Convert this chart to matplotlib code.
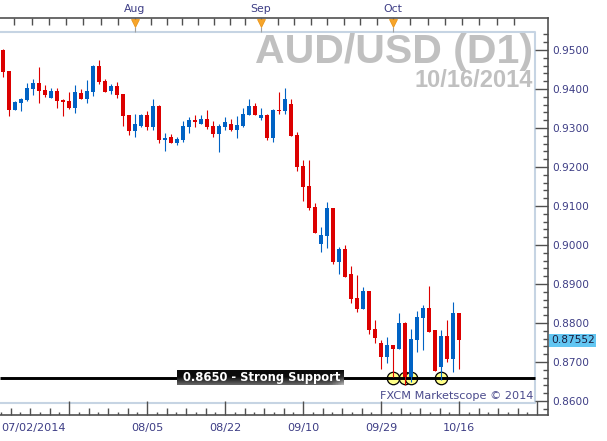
import matplotlib
matplotlib.use("Agg")
import matplotlib.pyplot as plt
import numpy as np
import pandas as pd

# AUD/USD daily candles, 07/02/2014 - 10/16/2014
dates = pd.bdate_range("2014-07-02", "2014-10-16")

opens = [0.9500, 0.9446, 0.9346, 0.9365, 0.9372, 0.9400, 0.9415, 0.9397, 0.9378, 0.9395,
         0.9373, 0.9369, 0.9352, 0.9390, 0.9374, 0.9393, 0.9459, 0.9421, 0.9395, 0.9408,
         0.9387, 0.9333, 0.9293, 0.9306, 0.9333, 0.9303, 0.9356, 0.9269, 0.9276, 0.9262,
         0.9269, 0.9303, 0.9321, 0.9311, 0.9323, 0.9305, 0.9285, 0.9303, 0.9310, 0.9296,
         0.9306, 0.9334, 0.9356, 0.9326, 0.9333, 0.9274, 0.9346, 0.9344, 0.9362, 0.9282,
         0.9203, 0.9151, 0.9098, 0.9003, 0.9024, 0.9096, 0.8957, 0.8990, 0.8926, 0.8863,
         0.8836, 0.8883, 0.8784, 0.8749, 0.8714, 0.8744, 0.8733, 0.8801, 0.8662, 0.8756,
         0.8814, 0.8839, 0.8781, 0.8687, 0.8767, 0.8708, 0.8826]
highs = [0.9502, 0.9446, 0.9369, 0.9378, 0.9416, 0.9426, 0.9456, 0.9410, 0.9403, 0.9402,
         0.9375, 0.9393, 0.9410, 0.9399, 0.9423, 0.9462, 0.9474, 0.9426, 0.9413, 0.9418,
         0.9387, 0.9333, 0.9336, 0.9336, 0.9344, 0.9374, 0.9359, 0.9286, 0.9284, 0.9277,
         0.9319, 0.9328, 0.9333, 0.9333, 0.9346, 0.9318, 0.9310, 0.9327, 0.9323, 0.9331,
         0.9351, 0.9374, 0.9364, 0.9351, 0.9336, 0.9348, 0.9393, 0.9403, 0.9374, 0.9289,
         0.9218, 0.9218, 0.9107, 0.9047, 0.9110, 0.9096, 0.8996, 0.9000, 0.8946, 0.8923,
         0.8893, 0.8883, 0.8808, 0.8756, 0.8765, 0.8744, 0.8825, 0.8803, 0.8784, 0.8831,
         0.8846, 0.8896, 0.8782, 0.8782, 0.8808, 0.8855, 0.8826]
lows = [0.9432, 0.9331, 0.9346, 0.9344, 0.9369, 0.9385, 0.9365, 0.9380, 0.9378, 0.9352,
        0.9331, 0.9349, 0.9339, 0.9374, 0.9365, 0.9383, 0.9414, 0.9393, 0.9387, 0.9378,
        0.9305, 0.9282, 0.9278, 0.9303, 0.9295, 0.9295, 0.9262, 0.9242, 0.9262, 0.9256,
        0.9265, 0.9288, 0.9302, 0.9311, 0.9297, 0.9278, 0.9239, 0.9295, 0.9293, 0.9275,
        0.9303, 0.9334, 0.9334, 0.9321, 0.9269, 0.9265, 0.9336, 0.9336, 0.9280, 0.9191,
        0.9114, 0.9090, 0.9030, 0.8983, 0.8992, 0.8951, 0.8926, 0.8919, 0.8851, 0.8829,
        0.8836, 0.8772, 0.8748, 0.8682, 0.8697, 0.8662, 0.8733, 0.8641, 0.8650, 0.8726,
        0.8731, 0.8778, 0.8678, 0.8654, 0.8699, 0.8674, 0.8682]
closes = [0.9444, 0.9346, 0.9366, 0.9374, 0.9402, 0.9416, 0.9395, 0.9385, 0.9395, 0.9370,
          0.9367, 0.9351, 0.9392, 0.9374, 0.9395, 0.9460, 0.9418, 0.9393, 0.9408, 0.9385,
          0.9332, 0.9293, 0.9310, 0.9333, 0.9303, 0.9356, 0.9269, 0.9274, 0.9262, 0.9272,
          0.9305, 0.9321, 0.9316, 0.9323, 0.9303, 0.9285, 0.9305, 0.9315, 0.9295, 0.9308,
          0.9336, 0.9356, 0.9334, 0.9333, 0.9274, 0.9346, 0.9344, 0.9374, 0.9280, 0.9201,
          0.9150, 0.9096, 0.9030, 0.9026, 0.9096, 0.8957, 0.8990, 0.8919, 0.8862, 0.8836,
          0.8883, 0.8782, 0.8762, 0.8714, 0.8744, 0.8733, 0.8801, 0.8662, 0.8759, 0.8816,
          0.8839, 0.8778, 0.8678, 0.8767, 0.8708, 0.8826, 0.87552]

support_level = 0.8660
support_text = "0.8650 - Strong Support"
touch_dates = ["2014-10-01", "2014-10-03", "2014-10-06", "2014-10-13"]
label_dates = ["2014-08-05", "2014-08-22", "2014-09-10", "2014-09-29", "2014-10-16"]
month_starts = ["2014-08-01", "2014-09-01", "2014-10-01"]
month_labels = ["Aug", "Sep", "Oct"]

RED = "#dc0000"
BLUE = "#0062c4"
FRAME = "#505050"
TXT = "#3d3d85"

plt.rcParams["font.family"] = "DejaVu Sans"

W, H = 607, 441
fig = plt.figure(figsize=(W / 100, H / 100), dpi=100)
# outer frame spans 548 x 397 px, one bar every 6 px, 0.01 = 39 px
ax = fig.add_axes([0, (H - 415) / H, 548 / W, 397 / H])
xlim = (-0.5, -0.5 + 548 / 6)
ylim = (0.95 - 365 / 3900, 0.95 + 32 / 3900)
inner_right = -0.5 + 535 / 6
inner_top = 0.95 + 18 / 3900
inner_bot = 0.95 - 353 / 3900
xt = ax.get_xaxis_transform()

idx = np.arange(len(dates))
o, h, l, c = (np.array(v) for v in (opens, highs, lows, closes))
cols = np.where(c >= o, BLUE, RED)
ax.vlines(idx, l, h, colors=cols, lw=0.8, zorder=4)
ax.bar(idx, np.maximum(np.abs(c - o), 0.0003), bottom=np.minimum(o, c),
       width=0.78, color=cols, lw=0, zorder=5)

# support line with touches
touch_idx = [dates.get_loc(pd.Timestamp(d)) for d in touch_dates]
ax.scatter(touch_idx, [support_level] * len(touch_idx), s=80, fc="#ffff88",
           ec="black", lw=0.9, zorder=3)
ax.hlines(support_level, -0.5, inner_right, color="black", lw=2.1, zorder=3.5)

# label box with a dark gradient
gy = np.linspace(0, 1, 20)[:, None]
gx = np.linspace(0, 1, 60)[None, :]
grad = 0.05 + 0.35 * np.clip((gy - 0.45) / 0.55, 0, 1) + 0.3 * np.clip((gx - 0.92) / 0.08, 0, 1) * gy
ax.imshow(grad, cmap="gray", vmin=0, vmax=1, aspect="auto", zorder=6,
          extent=[29, 56.7, support_level - 0.0018, support_level + 0.0018])
ax.text(43.1, support_level, support_text, color="white", fontweight="bold",
        fontsize=8.3, ha="center", va="center", zorder=7)

# light inner border
ax.plot([-0.5, inner_right, inner_right, -0.5], [inner_top, inner_top, inner_bot, inner_bot],
        color="#c6d4e3", lw=1.5, zorder=1, clip_on=False)

for s in ("top", "right", "bottom"):
    ax.spines[s].set_color(FRAME)
    ax.spines[s].set_linewidth(1.2)
ax.spines["left"].set_visible(False)

# right price axis
ax.yaxis.tick_right()
yt = np.arange(0.86, 0.9501, 0.01)
ax.set_yticks(yt, [f"{v:.4f}" for v in yt])
ax.set_yticks(np.arange(0.858, 0.9545, 0.002), minor=True)
ax.tick_params(axis="y", which="major", direction="in", length=9.4, width=1, color=FRAME,
               labelsize=7.6, labelcolor=TXT, pad=3.4, left=False, right=True)
ax.tick_params(axis="y", which="minor", direction="in", length=3.6, width=1, color=FRAME,
               left=False, right=True)

# current price tag
ax.text(1 + 3 / 548, closes[-1], f"{closes[-1]:.5f}", transform=ax.get_yaxis_transform(),
        ha="left", va="center", fontsize=7.7, color="#1c1c3c", clip_on=False,
        bbox=dict(boxstyle="square,pad=0.15", fc="#62c6f2", ec="none"))

# bottom date axis: majors every 13 bars, minors alternate long/short
lab_idx = [dates.get_loc(pd.Timestamp(d)) for d in label_dates]
major_x = [lab_idx[0] - 13] + lab_idx + [lab_idx[-1] + 13]
ax.set_xticks(major_x, [""] + [pd.Timestamp(d).strftime("%m/%d") for d in label_dates] + [""])
mid_x = np.arange(major_x[0] - 13 + 13 / 4, major_x[-1], 13 / 4)
ax.set_xticks(mid_x[mid_x > xlim[0]], minor=True)
short_x = np.arange(major_x[0] - 13 + 13 / 8, major_x[-1], 13 / 4)
ax.vlines(short_x[short_x > xlim[0]], 0, 3 / 397, transform=xt, color=FRAME, lw=1, zorder=9)
ax.tick_params(axis="x", which="major", direction="in", length=10, width=1, color=FRAME,
               labelsize=8.1, labelcolor=TXT, pad=5.5, top=False)
ax.tick_params(axis="x", which="minor", direction="in", length=5, width=1, color=FRAME,
               top=False)
fig.text(1 / W, 1 - 428 / H, dates[0].strftime("%m/%d/%Y"), ha="left", va="center",
         fontsize=8.1, color=TXT)

# top month axis
m_idx = [dates.get_loc(pd.Timestamp(d)) for d in month_starts]
bounds = [m_idx[0] - 23] + m_idx + [m_idx[-1] + 23]
sub = np.concatenate([np.linspace(a, b, 9)[:-1] for a, b in zip(bounds[:-1], bounds[1:])])
sub = sub[(sub > xlim[0]) & (sub < xlim[1])]
ax.vlines(sub, 1, 1 - 7 / 397, transform=xt, color=FRAME, lw=1, zorder=9)
for m, lab in zip(m_idx, month_labels):
    ax.text(m, 1 + 9 / 397, lab, transform=xt, ha="center", va="center",
            fontsize=7.8, color=TXT, clip_on=False)
ax.vlines(m_idx, 1 - 9 / 397, 1 - 14 / 397, transform=xt, color="#a0a0a0", lw=0.8, zorder=9)
ax.plot(m_idx, [1 - 5 / 397] * len(m_idx), "v", transform=xt, ms=5.8, color="#f7a52a",
        mec="#e89010", mew=0.5, clip_on=False, zorder=10)

ax.set_xlim(*xlim)
ax.set_ylim(*ylim)

# watermark texts
fig.text(533 / W, 1 - 63.3 / H, "AUD/USD (D1)", ha="right", va="baseline", fontsize=29.5,
         fontweight="bold", family="Liberation Sans", color="#c0c0c0")
fig.text(533 / W, 1 - 87.3 / H, "10/16/2014", ha="right", va="baseline", fontsize=17,
         fontweight="bold", family="Liberation Sans", color="#c0c0c0")
fig.text(533 / W, 1 - 396 / H, "FXCM Marketscope \u00a9 2014", ha="right", va="center",
         fontsize=8.1, color="#4a4a8c")

fig.savefig("out.png", dpi=100)
